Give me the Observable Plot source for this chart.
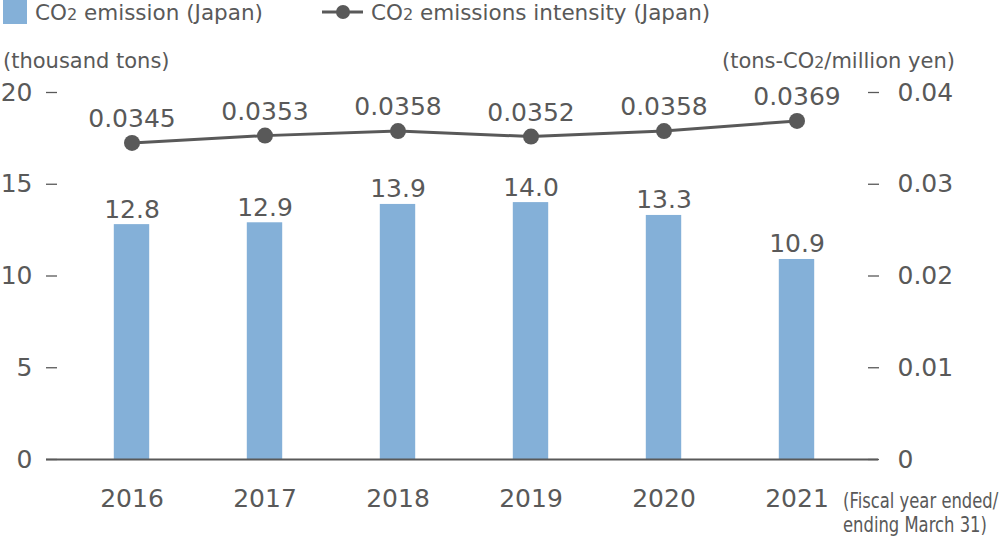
<!DOCTYPE html>
<html>
<head>
<meta charset="utf-8">
<script src="https://cdn.jsdelivr.net/npm/d3@7"></script>
<script src="https://cdn.jsdelivr.net/npm/@observablehq/plot@0.6"></script>
<style>
  html, body { margin: 0; padding: 0; background: #fff; }
  #wrap { position: relative; width: 1000px; height: 543px; overflow: hidden; font-family: "DejaVu Sans", sans-serif; color: #595959; }
  #wrap svg { position: absolute; left: 0; top: 0; }
  .t { position: absolute; white-space: nowrap; line-height: 24px; }
  .sub { font-size: 0.75em; }
  .sw { position: absolute; left: 3px; top: 0px; width: 24px; height: 24px; background: #84b0d8; }
  .nar { font-size: 20.5px; line-height: 24px; transform: scaleX(0.8); transform-origin: 0 0; }
</style>
</head>
<body>
<div id="wrap">
  <div id="chart"></div>
  <div class="sw"></div>
  <div class="t" style="left:35px; top:1px; font-size:21.5px;">CO<span class="sub">2</span> emission (Japan)</div>
  <svg width="44" height="24" style="left:321px; top:0px;"><line x1="1" y1="12" x2="42" y2="12" stroke="#595959" stroke-width="3"/><circle cx="22" cy="12" r="7" fill="#595959"/></svg>
  <div class="t" style="left:371px; top:1px; font-size:21.5px;">CO<span class="sub">2</span> emissions intensity (Japan)</div>
  <div class="t" style="left:3px; top:49px; font-size:21px;">(thousand tons)</div>
  <div class="t" style="left:722px; top:49px; font-size:21px;">(tons-CO<span class="sub">2</span>/million yen)</div>
  <div class="t nar" style="left:843px; top:489px;">(Fiscal year ended/<br>ending March 31)</div>
</div>
<script>
const years = ["2016", "2017", "2018", "2019", "2020", "2021"];
const emissions = [12.8, 12.9, 13.9, 14.0, 13.3, 10.9];
const intensity = [0.0345, 0.0353, 0.0358, 0.0352, 0.0358, 0.0369];
const leftTicks = [0, 5, 10, 15, 20];
const rightTickLabels = ["0", "0.01", "0.02", "0.03", "0.04"];
const rightMax = 0.04;

const data = years.map((y, i) => ({year: y, emission: emissions[i], intensity: intensity[i]}));
const k = leftTicks[leftTicks.length - 1] / rightMax;
const grey = "#595959";

const chart = Plot.plot({
  width: 1000,
  height: 543,
  marginLeft: 46,
  marginRight: 122,
  marginTop: 92,
  marginBottom: 84,
  style: {fontFamily: "DejaVu Sans", fontSize: "25px", color: grey, background: "transparent"},
  x: {domain: years, padding: 0, insetLeft: 17.7, insetRight: 12.7},
  y: {domain: [0, 20]},
  marks: [
    Plot.barY(data, {x: "year", y: "emission", fill: "#84b0d8", insetLeft: 48.8, insetRight: 48.8}),
    Plot.ruleY([0], {stroke: grey, strokeWidth: 2}),
    Plot.axisY(leftTicks, {anchor: "left", tickSize: 11, dx: 11, tickPadding: 14, strokeWidth: 1.3, fontSize: 25, label: null}),
    Plot.axisY(leftTicks, {anchor: "right", tickSize: 11, dx: -11, tickPadding: 19, strokeWidth: 1.3, fontSize: 25, label: null,
      tickFormat: (d, i) => rightTickLabels[leftTicks.indexOf(d)]}),
    Plot.axisX({tickSize: 0, tickPadding: 30, fontSize: 25, label: null}),
    Plot.line(data, {x: "year", y: d => d.intensity * k, stroke: grey, strokeWidth: 3}),
    Plot.dot(data, {x: "year", y: d => d.intensity * k, r: 8, fill: grey}),
    Plot.text(data, {x: "year", y: "emission", text: d => d.emission.toFixed(1), lineAnchor: "bottom", dy: -7, fontSize: 25, fill: grey}),
    Plot.text(data, {x: "year", y: d => d.intensity * k, text: d => d.intensity.toFixed(4), lineAnchor: "bottom", dy: -16, fontSize: 25, fill: grey})
  ]
});
document.getElementById("chart").appendChild(chart);
</script>
</body>
</html>
